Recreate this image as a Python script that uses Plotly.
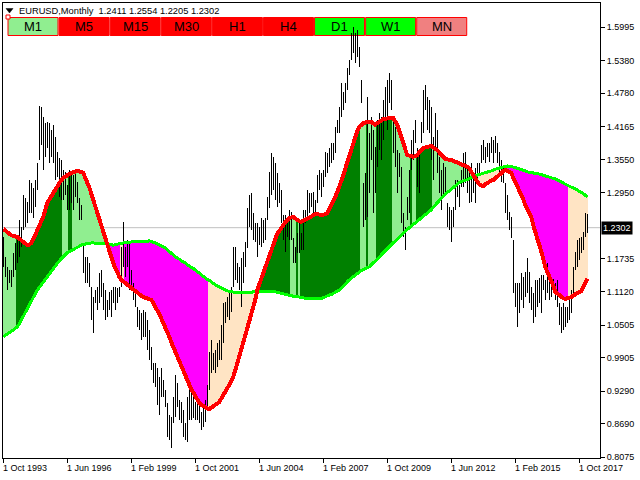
import plotly.graph_objects as go
import pandas as pd

# ---------------- data ----------------
first_month = "1993-10-01"

bar_high = [
    1.213, 1.176, 1.158, 1.152, 1.152, 1.184, 1.202, 1.208, 1.244, 1.232,
    1.291, 1.285, 1.278, 1.318, 1.313, 1.303, 1.318, 1.350, 1.455, 1.453,
    1.434, 1.423, 1.425, 1.423, 1.410, 1.420, 1.397, 1.370, 1.359, 1.355,
    1.337, 1.333, 1.309, 1.337, 1.333, 1.327, 1.331, 1.314, 1.285, 1.272,
    1.202, 1.176, 1.176, 1.165, 1.121, 1.102, 1.115, 1.121, 1.147, 1.152,
    1.128, 1.115, 1.097, 1.112, 1.115, 1.121, 1.121, 1.119, 1.121, 1.195,
    1.241, 1.195, 1.208, 1.202, 1.152, 1.128, 1.110, 1.084, 1.079, 1.073,
    1.079,
    1.075, 1.060, 1.042, 1.010, 0.981, 0.981, 0.972, 0.955, 0.972, 0.950,
    0.931, 0.907, 0.885, 0.881, 0.918, 0.959, 0.944, 0.913, 0.909, 0.894,
    0.870, 0.918, 0.935, 0.926, 0.922, 0.909, 0.907, 0.904, 0.891, 0.904,
    0.913, 0.940, 1.001, 1.023, 0.999, 1.005, 1.018, 1.023, 1.051, 1.091,
    1.093, 1.102, 1.110, 1.121, 1.195, 1.195, 1.165, 1.158, 1.174, 1.185,
    1.204, 1.267, 1.291, 1.294, 1.257, 1.239, 1.239, 1.232, 1.248, 1.244,
    1.248, 1.287, 1.333, 1.368, 1.361, 1.350, 1.331, 1.313, 1.300, 1.254,
    1.254, 1.248, 1.263, 1.259, 1.211,
    1.195, 1.220, 1.239, 1.220, 1.263, 1.263, 1.300, 1.294, 1.294, 1.296,
    1.281, 1.327, 1.337, 1.331, 1.337, 1.370, 1.368, 1.377, 1.386, 1.386,
    1.416, 1.429, 1.453, 1.497, 1.480, 1.497, 1.525, 1.539, 1.589, 1.600,
    1.589, 1.595, 1.563, 1.502, 1.313, 1.331, 1.471, 1.405, 1.434, 1.410,
    1.379, 1.429, 1.442, 1.434, 1.466, 1.490, 1.502, 1.515, 1.502, 1.434,
    1.416, 1.373, 1.368, 1.342, 1.257, 1.232, 1.287, 1.337, 1.392, 1.410,
    1.429, 1.377, 1.373, 1.425, 1.484, 1.493, 1.471, 1.466, 1.453, 1.397,
    1.442, 1.410, 1.361, 1.337,
    1.350, 1.342, 1.276, 1.268, 1.263, 1.268, 1.318, 1.318, 1.309, 1.337,
    1.368, 1.370, 1.346, 1.331, 1.350, 1.333, 1.340, 1.350, 1.350, 1.383,
    1.392, 1.379, 1.386, 1.386, 1.397, 1.392, 1.399, 1.386, 1.370, 1.355,
    1.342, 1.313, 1.291, 1.259, 1.250, 1.208, 1.128, 1.128, 1.128, 1.147,
    1.139, 1.149, 1.174, 1.149, 1.121, 1.110, 1.134, 1.134, 1.137, 1.143,
    1.143, 1.134, 1.165, 1.147, 1.134, 1.136, 1.128, 1.134, 1.091, 1.084,
    1.091, 1.084, 1.084, 1.100, 1.115, 1.158, 1.185, 1.208, 1.211, 1.213,
    1.222, 1.257, 1.2554,
]

bar_low = [
    1.158, 1.139, 1.115, 1.128, 1.121, 1.139, 1.152, 1.165, 1.176, 1.195,
    1.226, 1.232, 1.239, 1.257, 1.257, 1.248, 1.268, 1.300, 1.355, 1.383,
    1.337, 1.361, 1.377, 1.350, 1.361, 1.350, 1.318, 1.324, 1.287, 1.281,
    1.281, 1.291, 1.263, 1.263, 1.276, 1.263, 1.287, 1.276, 1.244, 1.244,
    1.147, 1.128, 1.128, 1.121, 1.060, 1.036, 1.091, 1.079, 1.091, 1.102,
    1.079, 1.060, 1.066, 1.079, 1.066, 1.091, 1.079, 1.091, 1.102, 1.121,
    1.158, 1.139, 1.158, 1.115, 1.115, 1.097, 1.084, 1.047, 1.042, 1.023,
    1.029,
    1.029, 1.005, 0.986, 0.968, 0.944, 0.937, 0.904, 0.885, 0.918, 0.918,
    0.900, 0.844, 0.839, 0.824, 0.870, 0.881, 0.900, 0.876, 0.870, 0.844,
    0.839, 0.835, 0.876, 0.876, 0.880, 0.876, 0.876, 0.870, 0.857, 0.863,
    0.872, 0.900, 0.931, 0.962, 0.968, 0.962, 0.973, 0.986, 0.986, 1.018,
    1.055, 1.066, 1.060, 1.075, 1.121, 1.134, 1.128, 1.115, 1.084, 1.128,
    1.158, 1.193, 1.232, 1.226, 1.208, 1.204, 1.176, 1.198, 1.195, 1.202,
    1.208, 1.244, 1.267, 1.291, 1.300, 1.281, 1.268, 1.276, 1.239, 1.208,
    1.185, 1.213, 1.208, 1.208, 1.165,
    1.165, 1.184, 1.184, 1.189, 1.189, 1.239, 1.244, 1.257, 1.268, 1.250,
    1.257, 1.276, 1.300, 1.287, 1.305, 1.324, 1.331, 1.342, 1.350, 1.355,
    1.368, 1.405, 1.405, 1.434, 1.447, 1.460, 1.484, 1.512, 1.539, 1.552,
    1.534, 1.545, 1.526, 1.460, 1.232, 1.244, 1.250, 1.294, 1.355, 1.257,
    1.294, 1.342, 1.373, 1.355, 1.392, 1.434, 1.410, 1.460, 1.447, 1.368,
    1.342, 1.294, 1.324, 1.239, 1.213, 1.189, 1.244, 1.257, 1.337, 1.355,
    1.386, 1.305, 1.294, 1.386, 1.405, 1.447, 1.410, 1.405, 1.355, 1.318,
    1.373, 1.331, 1.294, 1.263,
    1.287, 1.294, 1.232, 1.226, 1.204, 1.232, 1.263, 1.287, 1.268, 1.305,
    1.305, 1.313, 1.294, 1.276, 1.278, 1.294, 1.276, 1.318, 1.331, 1.350,
    1.355, 1.350, 1.361, 1.351, 1.368, 1.350, 1.368, 1.350, 1.331, 1.314,
    1.313, 1.257, 1.244, 1.226, 1.211, 1.110, 1.084, 1.047, 1.073, 1.097,
    1.082, 1.102, 1.110, 1.091, 1.079, 1.055, 1.066, 1.084, 1.091, 1.073,
    1.115, 1.097, 1.110, 1.097, 1.102, 1.115, 1.097, 1.084, 1.051, 1.036,
    1.042, 1.047, 1.055, 1.060, 1.073, 1.110, 1.152, 1.158, 1.171, 1.184,
    1.189, 1.213, 1.2205,
]

fast_line = [
    1.228, 1.225, 1.221, 1.217, 1.216, 1.215, 1.214, 1.213, 1.210, 1.207,
    1.204, 1.201, 1.198, 1.199, 1.202, 1.209, 1.217, 1.226, 1.234, 1.242,
    1.250, 1.263, 1.276, 1.282, 1.288, 1.294, 1.302, 1.309, 1.313, 1.318,
    1.322, 1.325, 1.327, 1.329, 1.331, 1.333, 1.334, 1.335, 1.334, 1.333,
    1.331, 1.322, 1.314, 1.305, 1.293, 1.281, 1.269, 1.257, 1.245, 1.232,
    1.222, 1.213, 1.201, 1.189, 1.177, 1.165, 1.156, 1.147, 1.140, 1.134,
    1.131, 1.128, 1.125, 1.121, 1.118, 1.115, 1.113, 1.110, 1.107, 1.105,
    1.102, 1.101, 1.100, 1.099, 1.097, 1.091, 1.085, 1.079, 1.071, 1.063,
    1.055, 1.047, 1.038, 1.029, 1.019, 1.010, 1.000, 0.991, 0.981, 0.972,
    0.964, 0.955, 0.948, 0.941, 0.933, 0.926, 0.920, 0.913, 0.907, 0.904,
    0.901, 0.898, 0.897, 0.896, 0.898, 0.900, 0.903, 0.906, 0.909, 0.915,
    0.920, 0.926, 0.933, 0.940, 0.948, 0.955, 0.967, 0.980, 0.992, 1.004,
    1.017, 1.029, 1.042, 1.054, 1.067, 1.079, 1.097, 1.115, 1.126, 1.136,
    1.147, 1.157, 1.166, 1.176, 1.188, 1.201, 1.213, 1.219, 1.224, 1.230,
    1.235, 1.240, 1.244, 1.248, 1.249, 1.250, 1.247, 1.244, 1.242, 1.241,
    1.243, 1.246, 1.248, 1.249, 1.250, 1.253, 1.255, 1.255, 1.254, 1.254,
    1.254, 1.255, 1.257, 1.264, 1.271, 1.278, 1.287, 1.296, 1.305, 1.314,
    1.326, 1.339, 1.351, 1.364, 1.377, 1.390, 1.399, 1.408, 1.416, 1.420,
    1.423, 1.424, 1.424, 1.425, 1.425, 1.422, 1.420, 1.423, 1.426, 1.429,
    1.430, 1.431, 1.432, 1.432, 1.432, 1.432, 1.426, 1.420, 1.409, 1.398,
    1.388, 1.376, 1.364, 1.363, 1.362, 1.361, 1.362, 1.364, 1.369, 1.373,
    1.377, 1.378, 1.379, 1.380, 1.381, 1.378, 1.376, 1.373, 1.369, 1.365,
    1.361, 1.357, 1.356, 1.356, 1.355, 1.353, 1.352, 1.350, 1.349, 1.347,
    1.346, 1.344, 1.342, 1.340, 1.333, 1.327, 1.320, 1.313, 1.310, 1.308,
    1.307, 1.310, 1.313, 1.315, 1.317, 1.318, 1.321, 1.325, 1.328, 1.331,
    1.334, 1.337, 1.335, 1.333, 1.331, 1.322, 1.314, 1.307, 1.300, 1.294,
    1.283, 1.272, 1.265, 1.257, 1.250, 1.235, 1.220, 1.210, 1.199, 1.189,
    1.173, 1.158, 1.150, 1.142, 1.134, 1.123, 1.112, 1.109, 1.105, 1.102,
    1.100, 1.099, 1.100, 1.101, 1.102, 1.105, 1.108, 1.110, 1.112, 1.113,
    1.120, 1.128, 1.136,
]

slow_line = [
    1.029, 1.032, 1.034, 1.037, 1.039, 1.042, 1.044, 1.047, 1.053, 1.060,
    1.066, 1.073, 1.079, 1.086, 1.093, 1.100, 1.108, 1.115, 1.120, 1.125,
    1.130, 1.134, 1.139, 1.144, 1.149, 1.155, 1.160, 1.165, 1.169, 1.173,
    1.177, 1.180, 1.184, 1.186, 1.188, 1.190, 1.193, 1.195, 1.197, 1.199,
    1.200, 1.200, 1.201, 1.201, 1.202, 1.202, 1.202, 1.202, 1.202, 1.202,
    1.202, 1.201, 1.200, 1.199, 1.199, 1.198, 1.199, 1.200, 1.200, 1.201,
    1.202, 1.202, 1.203, 1.203, 1.204, 1.204, 1.204, 1.204, 1.204, 1.204,
    1.204, 1.205, 1.205, 1.206, 1.205, 1.204, 1.202, 1.200, 1.199, 1.197,
    1.195, 1.193, 1.190, 1.186, 1.183, 1.179, 1.176, 1.174, 1.172, 1.169,
    1.167, 1.165, 1.162, 1.160, 1.157, 1.155, 1.152, 1.149, 1.146, 1.144,
    1.141, 1.138, 1.135, 1.133, 1.130, 1.128, 1.125, 1.123, 1.121, 1.119,
    1.117, 1.115, 1.114, 1.113, 1.112, 1.111, 1.110, 1.110, 1.110, 1.110,
    1.110, 1.110, 1.110, 1.111, 1.111, 1.112, 1.112, 1.112, 1.113, 1.113,
    1.113, 1.113, 1.113, 1.113, 1.112, 1.112, 1.112, 1.111, 1.110, 1.110,
    1.109, 1.108, 1.107, 1.106, 1.105, 1.104, 1.103, 1.103, 1.102, 1.101,
    1.101, 1.100, 1.100, 1.099, 1.099, 1.099, 1.099, 1.099, 1.099, 1.100,
    1.101, 1.103, 1.104, 1.106, 1.107, 1.109, 1.111, 1.113, 1.115, 1.119,
    1.123, 1.127, 1.130, 1.134, 1.137, 1.140, 1.143, 1.146, 1.149, 1.151,
    1.153, 1.155, 1.156, 1.158, 1.162, 1.165, 1.169, 1.172, 1.176, 1.180,
    1.184, 1.188, 1.191, 1.195, 1.199, 1.202, 1.206, 1.209, 1.213, 1.216,
    1.220, 1.223, 1.227, 1.230, 1.233, 1.236, 1.238, 1.241, 1.244, 1.247,
    1.250, 1.253, 1.256, 1.259, 1.263, 1.268, 1.272, 1.277, 1.281, 1.285,
    1.289, 1.292, 1.295, 1.298, 1.302, 1.305, 1.308, 1.311, 1.313, 1.315,
    1.316, 1.318, 1.319, 1.321, 1.322, 1.324, 1.325, 1.327, 1.328, 1.329,
    1.331, 1.332, 1.333, 1.334, 1.335, 1.336, 1.338, 1.339, 1.340, 1.341,
    1.342, 1.343, 1.344, 1.343, 1.343, 1.342, 1.341, 1.340, 1.338, 1.337,
    1.336, 1.335, 1.333, 1.333, 1.332, 1.331, 1.331, 1.330, 1.329, 1.328,
    1.327, 1.326, 1.325, 1.324, 1.323, 1.322, 1.320, 1.318, 1.316, 1.314,
    1.312, 1.311, 1.309, 1.307, 1.305, 1.304, 1.302, 1.300, 1.298, 1.295,
    1.293, 1.290, 1.287,
]

# (first month, last month, state) of the band between the two lines
band_states = [
    ("1993-10", "1994-04", "weak_up"), ("1994-05", "1996-03", "up"),
    ("1996-04", "1996-06", "weak_up"), ("1996-07", "1996-08", "up"),
    ("1996-09", "1998-01", "weak_up"), ("1998-02", "1998-08", "down"),
    ("1998-09", "1998-10", "weak_down"), ("1998-11", "2002-04", "down"),
    ("2002-05", "2004-04", "weak_down"), ("2004-05", "2005-09", "up"),
    ("2005-10", "2005-12", "weak_up"), ("2006-01", "2006-01", "up"),
    ("2006-02", "2006-02", "weak_up"), ("2006-03", "2008-08", "up"),
    ("2008-09", "2008-11", "weak_up"), ("2008-12", "2008-12", "up"),
    ("2009-01", "2009-04", "weak_up"), ("2009-05", "2009-12", "up"),
    ("2010-01", "2010-09", "weak_up"), ("2010-10", "2010-10", "up"),
    ("2010-11", "2010-12", "weak_up"), ("2011-01", "2011-08", "up"),
    ("2011-09", "2013-05", "weak_up"), ("2013-06", "2013-07", "down"),
    ("2013-08", "2014-07", "weak_down"), ("2014-08", "2017-04", "down"),
    ("2017-05", "2018-02", "weak_down"),
]

timeframes = ["M1", "M5", "M15", "M30", "H1", "H4", "D1", "W1", "MN"]
timeframe_states = ["weak_up", "down", "down", "down", "down", "down", "up", "up", "weak_down"]

symbol_title = "EURUSD,Monthly"
last_ohlc = ["1.2411", "1.2554", "1.2205", "1.2302"]
last_close = 1.2302

y_ticks = [1.5995, 1.5380, 1.4780, 1.4165, 1.3550, 1.2950, 1.1735,
           1.1120, 1.0505, 0.9905, 0.9290, 0.8690, 0.8075]
x_tick_dates = ["1993-10-01", "1996-06-01", "1999-02-01", "2001-10-01", "2004-06-01",
                "2007-02-01", "2009-10-01", "2012-06-01", "2015-02-01", "2017-10-01"]
x_tick_labels = ["1 Oct 1993", "1 Jun 1996", "1 Feb 1999", "1 Oct 2001", "1 Jun 2004",
                 "1 Feb 2007", "1 Oct 2009", "1 Jun 2012", "1 Feb 2015", "1 Oct 2017"]

# ---------------- style ----------------
STATE_COLORS = {"up": "#008000", "weak_up": "#90EE90", "down": "#FF00FF", "weak_down": "#FFE4C4"}
BUTTON_COLORS = {"up": "#00FF00", "weak_up": "#90EE90", "down": "#FF0000", "weak_down": "#F08080"}
FONT = "Liberation Sans, Arial, sans-serif"

W, H = 640, 480
ML, MR, MT, MB = 3, 40, 3, 22
PW, PH = W - ML - MR, H - MT - MB


def px(x):
    return (x - ML) / PW


def py(y):
    return 1 - (y - MT) / PH


months = pd.date_range(first_month, periods=len(bar_high), freq="MS")
month_pos = {m.strftime("%Y-%m"): i for i, m in enumerate(months)}

fig = go.Figure()

# band between the lines, one column per month
for state, color in STATE_COLORS.items():
    idx = []
    for a, b, s in band_states:
        if s == state:
            idx.extend(range(month_pos[a], month_pos[b] + 1))
    fig.add_trace(go.Bar(
        x=[months[i] for i in idx],
        y=[abs(fast_line[i] - slow_line[i]) for i in idx],
        base=[min(fast_line[i], slow_line[i]) for i in idx],
        width=[31 * 86400000] * len(idx),
        marker=dict(color=color, line=dict(width=0)),
        hoverinfo="skip", showlegend=False,
    ))

# price bars (high-low)
bx, by = [], []
for m, hi, lo in zip(months, bar_high, bar_low):
    bx += [m, m, None]
    by += [lo, hi, None]
fig.add_trace(go.Scatter(x=bx, y=by, mode="lines", line=dict(color="black", width=1),
                         hoverinfo="skip", showlegend=False))

fig.add_trace(go.Scatter(x=months, y=slow_line, mode="lines",
                         line=dict(color="#00FF00", width=3), hoverinfo="skip", showlegend=False))
fig.add_trace(go.Scatter(x=months, y=fast_line, mode="lines",
                         line=dict(color="#FF0000", width=4), hoverinfo="skip", showlegend=False))

shapes = []
annotations = []

# current price line
shapes.append(dict(type="line", xref="paper", x0=0, x1=1, yref="y", y0=last_close, y1=last_close,
                   line=dict(color="#C0C0C0", width=1), layer="below"))

# timeframe buttons
pitch = 51.09
for k, (tf, st) in enumerate(zip(timeframes, timeframe_states)):
    x0 = 8 + k * pitch
    x1 = x0 + 50
    shapes.append(dict(type="rect", xref="paper", yref="paper",
                       x0=px(x0), x1=px(x1), y0=py(35.5), y1=py(17.5),
                       fillcolor=BUTTON_COLORS[st], line=dict(color="#FF0000", width=1), layer="below"))
    annotations.append(dict(xref="paper", yref="paper", x=px((x0 + x1) / 2), y=py(26.8),
                            text=tf, showarrow=False, xanchor="center", yanchor="middle",
                            font=dict(family="Liberation Sans Narrow, " + FONT, size=13, color="black")))

# small anchor square
shapes.append(dict(type="rect", xref="paper", yref="paper", x0=px(6), x1=px(10), y0=py(19), y1=py(15),
                   fillcolor="white", line=dict(color="#FF0000", width=1), layer="above"))

# header triangle + text
tri = "M {} {} L {} {} L {} {} Z".format(px(6), py(8.5), px(13), py(8.5), px(9.5), py(13))
shapes.append(dict(type="path", xref="paper", yref="paper", path=tri,
                   fillcolor="black", line=dict(color="black", width=0.5)))
annotations.append(dict(xref="paper", yref="paper", x=px(17), y=py(11),
                        text=symbol_title + "&nbsp;&nbsp;" + " ".join(last_ohlc),
                        showarrow=False, xanchor="left", yanchor="middle",
                        font=dict(family=FONT, size=9.3, color="black")))

# x tick labels, left aligned at the tick
for d, lab in zip(x_tick_dates, x_tick_labels):
    annotations.append(dict(xref="x", yref="paper", x=d, y=0, text=lab, showarrow=False,
                            xanchor="left", yanchor="top", yshift=-3, xshift=-2,
                            font=dict(family=FONT, size=9, color="black")))

# current price label
annotations.append(dict(xref="paper", yref="y", x=1, y=last_close, text=last_ohlc[3],
                        showarrow=False, xanchor="left", yanchor="middle", xshift=1,
                        bgcolor="black", borderpad=1,
                        font=dict(family=FONT, size=9, color="white")))

start = pd.Timestamp(first_month) - pd.Timedelta(days=4.5)
end = pd.Timestamp(first_month) + pd.Timedelta(days=30.44 * 298.35)

fig.update_layout(
    width=W, height=H,
    margin=dict(l=ML, r=MR, t=MT, b=MB, pad=0),
    paper_bgcolor="white", plot_bgcolor="white",
    barmode="overlay", bargap=0,
    showlegend=False,
    shapes=shapes, annotations=annotations,
    xaxis=dict(type="date", range=[start, end], tickvals=x_tick_dates, ticktext=[""] * len(x_tick_dates),
               ticks="outside", ticklen=4, tickcolor="black", showgrid=False, zeroline=False,
               showline=True, linecolor="black", linewidth=1, mirror=True),
    yaxis=dict(side="right", range=[0.8057, 1.6443], tickvals=y_ticks,
               ticktext=["%.4f" % v for v in y_ticks],
               ticks="outside", ticklen=4, tickcolor="black", showgrid=False, zeroline=False,
               showline=True, linecolor="black", linewidth=1, mirror=True,
               tickfont=dict(family=FONT, size=9, color="black")),
)

post = (
    "document.body.style.margin='0px';"
    "document.body.style.overflow='hidden';"
    "document.querySelectorAll('.scatterlayer path.js-line').forEach(function(p){"
    "p.style.shapeRendering='crispEdges';});"
    "document.querySelectorAll('.barlayer path').forEach(function(p){"
    "p.style.shapeRendering='crispEdges';});"
)
fig.write_html("out.html", config={"displayModeBar": False}, post_script=post)
